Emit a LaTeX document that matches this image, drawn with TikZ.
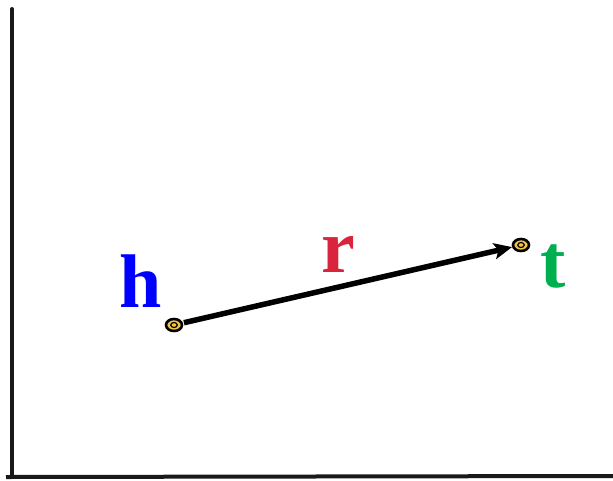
\documentclass[tikz,border=0pt]{standalone}
\usepackage{fontspec}
\setmainfont{Liberation Serif}
\usetikzlibrary{arrows.meta,shapes.geometric}
\definecolor{hblue}{RGB}{0,0,255}
\definecolor{rred}{RGB}{218,36,62}
\definecolor{tgreen}{RGB}{0,176,80}
\definecolor{dotfill}{RGB}{240,196,70}
\tikzset{
  axis/.style={line width=4pt, draw={rgb,255:red,25;green,25;blue,25}, line cap=round},
  lbl/.style={inner sep=0pt, anchor=base, font=\fontsize{76}{76}\selectfont\bfseries},
  pt/.style={ellipse, draw=black, line width=2.6pt, fill=dotfill, minimum width=16pt, minimum height=12pt, inner sep=0pt},
  inner/.style={ellipse, draw=black, line width=1.2pt, fill=dotfill, minimum width=6.5pt, minimum height=5pt, inner sep=0pt},
  vec/.style={line width=5.5pt, -{Stealth[length=18pt,width=16pt,inset=4pt]}}
}
\begin{document}
\begin{tikzpicture}[x=1pt,y=-1pt]
\useasboundingbox (0,0) rectangle (613,480);
\coordinate (top) at (12,9);
\coordinate (origin) at (12,477);
\coordinate (right) at (615,476);
\draw[axis] (top) -- (origin);
\draw[axis, line cap=butt] (6,477) -- (right);
\node[pt] (h) at (174,325) {};
\node[pt] (t) at (521,245) {};
\draw[vec, shorten <=1pt, shorten >=0pt] (h) -- (t);
\node[inner] at (h) {};
\node[inner] at (t) {};
\node[lbl, text=hblue] (hl) at (141,307) {h};
\node[lbl, text=rred] (rl) at (338,272) {r};
\node[lbl, text=tgreen] (tl) at (553,287) {t};
\end{tikzpicture}
\end{document}
